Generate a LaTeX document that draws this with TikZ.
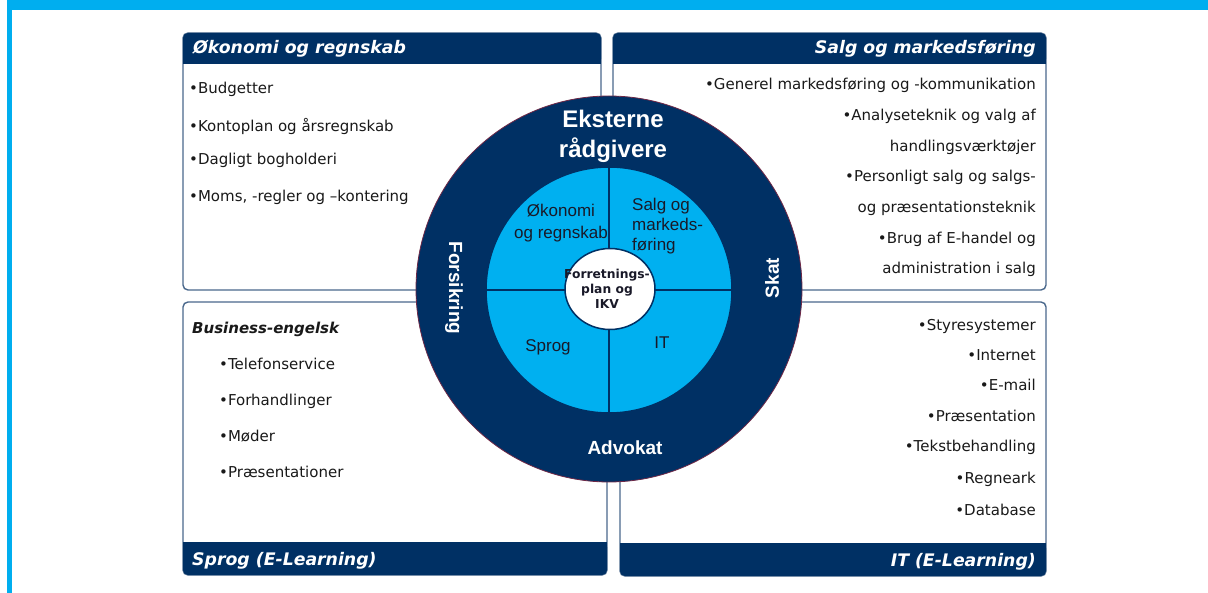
\documentclass[tikz,border=0pt]{standalone}
\usepackage{fontspec}
\usetikzlibrary{shapes.geometric}
\setmainfont{DejaVu Sans}
\newfontfamily\arialfont{Liberation Sans}
\definecolor{navy}{RGB}{0,48,100}
\definecolor{skyfill}{RGB}{0,176,240}
\definecolor{framecyan}{RGB}{0,174,239}
\definecolor{boxline}{RGB}{74,104,140}
\definecolor{rimred}{RGB}{110,40,70}
\definecolor{inktext}{RGB}{25,25,40}

\begin{document}
\begin{tikzpicture}[x=1pt,y=-1pt,
  item/.style={font=\fontsize{15}{18}\selectfont, inner sep=0pt, text height=13pt, text depth=1pt, text=black!90},
  headtext/.style={font=\fontsize{17.3}{20}\selectfont\bfseries\itshape, inner sep=0pt, text height=13pt, text depth=2pt, text=white},
  boxbody/.style={draw=boxline, line width=1.4pt, fill=white, rounded corners=5pt},
  ringtext/.style={font=\arialfont\bfseries\fontsize{19}{22}\selectfont, text=white, inner sep=0pt},
  coretext/.style={font=\arialfont\fontsize{17}{20}\selectfont, text=inktext, inner sep=0pt},
]
\useasboundingbox (0,0) rectangle (1208,593);

% cyan page frame
\fill[framecyan] (7,0) rectangle (1208,10);
\fill[framecyan] (7,0) rectangle (12,593);

% four topic boxes
\draw[boxbody] (183,33) rectangle (601,290);
\fill[navy, rounded corners=5pt] (183,33) rectangle (601,64);
\fill[navy] (183,50) rectangle (601,64);

\draw[boxbody] (613,33) rectangle (1046,290);
\fill[navy, rounded corners=5pt] (613,33) rectangle (1046,64);
\fill[navy] (613,50) rectangle (1046,64);

\draw[boxbody] (183,302) rectangle (607,575);
\fill[navy, rounded corners=5pt] (183,542) rectangle (607,575);
\fill[navy] (183,542) rectangle (607,558);

\draw[boxbody] (620,302) rectangle (1046,576);
\fill[navy, rounded corners=5pt] (620,543) rectangle (1046,576);
\fill[navy] (620,543) rectangle (1046,559);

% box headings
\node[headtext, anchor=west] (hOk) at (193,48) {Økonomi og regnskab};
\node[headtext, anchor=east] (hSa) at (1036,48) {Salg og markedsføring};
\node[headtext, anchor=west] (hSp) at (192,560) {Sprog (E-Learning)};
\node[headtext, anchor=east] (hIT) at (1036,561) {IT (E-Learning)};

% Økonomi og regnskab
\node[item, anchor=west] (ok1) at (189,88) {•Budgetter};
\node[item, anchor=west] (ok2) at (189,126) {•Kontoplan og årsregnskab};
\node[item, anchor=west] (ok3) at (189,159) {•Dagligt bogholderi};
\node[item, anchor=west] (ok4) at (189,196) {•Moms, -regler og –kontering};

% Salg og markedsføring
\node[item, anchor=east] (sa1) at (1036,84) {•Generel markedsføring og -kommunikation};
\node[item, anchor=east] (sa2) at (1036,115) {•Analyseteknik og valg af};
\node[item, anchor=east] (sa3) at (1036,146) {handlingsværktøjer};
\node[item, anchor=east] (sa4) at (1036,176) {•Personligt salg og salgs-};
\node[item, anchor=east] (sa5) at (1036,207) {og præsentationsteknik};
\node[item, anchor=east] (sa6) at (1036,238) {•Brug af E-handel og};
\node[item, anchor=east] (sa7) at (1036,268) {administration i salg};

% Sprog
\node[item, anchor=west, font=\fontsize{15}{18}\selectfont\bfseries\itshape] (sp0) at (192,328) {Business-engelsk};
\node[item, anchor=west] (sp1) at (219,364) {•Telefonservice};
\node[item, anchor=west] (sp2) at (219,400) {•Forhandlinger};
\node[item, anchor=west] (sp3) at (219,436) {•Møder};
\node[item, anchor=west] (sp4) at (219,472) {•Præsentationer};

% IT
\node[item, anchor=east] (it1) at (1036,325) {•Styresystemer};
\node[item, anchor=east] (it2) at (1036,355) {•Internet};
\node[item, anchor=east] (it3) at (1036,385) {•E-mail};
\node[item, anchor=east] (it4) at (1036,416) {•Præsentation};
\node[item, anchor=east] (it5) at (1036,446) {•Tekstbehandling};
\node[item, anchor=east] (it6) at (1036,477) {•Regneark};
\node[item, anchor=east] (it7) at (1036,509) {•Database};

% central rings
\node[circle, minimum size=386pt, inner sep=0pt, fill=navy, draw=rimred, line width=0.8pt] (outer) at (609,289) {};
\node[circle, minimum size=246pt, inner sep=0pt, fill=skyfill, draw=navy, line width=1.5pt] (inner) at (609,290) {};
\draw[navy, line width=2pt] (inner.north) -- (inner.south);
\draw[navy, line width=2pt] (inner.west) -- (inner.east);
\node[ellipse, minimum width=90pt, minimum height=81pt, inner sep=0pt, fill=white, draw=navy, line width=1.5pt] (core) at (610,289) {};

% ring labels
\node[font=\arialfont\bfseries\fontsize{24}{30}\selectfont, text=white, align=center, inner sep=0pt] (ext) at (613,136) {Eksterne\\rådgivere};
\node[ringtext, rotate=-90] (fors) at (454,288) {Forsikring};
\node[ringtext, rotate=90] (skat) at (772,278) {Skat};
\node[ringtext] (adv) at (625,448) {Advokat};

% quadrant labels
\node[coretext, align=center, font=\arialfont\fontsize{17}{22}\selectfont] (qOk) at (561,223) {Økonomi\\og regnskab};
\node[coretext, align=left, anchor=west] (qSa) at (632,226) {Salg og\\markeds-\\føring};
\node[coretext] (qSp) at (548,347) {Sprog};
\node[coretext] (qIT) at (662,343) {IT};

% centre label
\node[font=\fontsize{12.3}{15}\selectfont\bfseries, text=inktext, align=center, inner sep=0pt] (plan) at (607,289) {Forretnings-\\plan og\\IKV};
\end{tikzpicture}
\end{document}
